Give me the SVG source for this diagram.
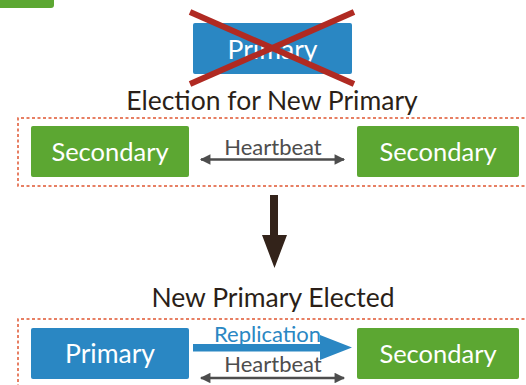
<svg xmlns="http://www.w3.org/2000/svg" width="526" height="385" viewBox="0 0 526 385">
<defs>
<style>
.t{font-family:Lato,"Open Sans","Liberation Sans",sans-serif}
.box-t{fill:#fff;font-size:25.5px;text-anchor:middle}
.pr-t{fill:#fff;font-size:26.5px;text-anchor:middle}
.title{fill:#2b1f18;font-size:26.5px;text-anchor:middle}
.hb{fill:#4d4d4d;font-size:22px;text-anchor:middle}
.green{fill:#5ca732}
.blue{fill:#2a87c3}
.dash{fill:none;stroke:#e05530;stroke-width:1.5;stroke-dasharray:3 2.5}
.hbl{stroke:#4d4d4d;stroke-width:2.5;fill:none}
</style>
<marker id="ah" viewBox="0 0 10 10" refX="9" refY="5" markerWidth="5.5" markerHeight="4.2" orient="auto-start-reverse" markerUnits="strokeWidth">
<path d="M0,0 L10,5 L0,10 Z" fill="#4d4d4d"/>
</marker>
</defs>
<rect width="526" height="385" fill="#fff"/>

<g id="top-fragment">
<path d="M0,0 H54 V5 Q54,8 51,8 H0 Z" class="green"/>
</g>

<g id="old-primary">
<rect x="193" y="23" width="159" height="51" rx="2" class="blue"/>
<text x="272.5" y="59" class="t pr-t">Primary</text>
<line x1="190" y1="12" x2="354" y2="84" stroke="#b02a22" stroke-width="6"/>
<line x1="354" y1="12" x2="190" y2="84" stroke="#b02a22" stroke-width="6"/>
</g>

<g id="title1">
<text x="272" y="110" class="t title">Election for New Primary</text>
</g>

<g id="group1">
<path d="M530,118 H18 V186 H530" class="dash"/>
</g>

<g id="sec1">
<rect x="31" y="126" width="158" height="51" rx="2" class="green"/>
<text x="110" y="161" class="t box-t">Secondary</text>
</g>

<g id="sec2">
<rect x="357" y="126" width="162" height="51" rx="2" class="green"/>
<text x="438" y="161" class="t box-t">Secondary</text>
</g>

<g id="down-arrow">
<path d="M270,195 H278 V235 H287 L274.5,268 L262,235 H270 Z" fill="#33231a"/>
</g>

<g id="title2">
<text x="273" y="307" class="t title">New Primary Elected</text>
</g>

<g id="group2">
<path d="M530,319 H18 V390" class="dash"/>
</g>

<g id="primary">
<rect x="31" y="328" width="158" height="51" rx="2" class="blue"/>
<text x="110" y="363" class="t pr-t">Primary</text>
</g>

<g id="sec3">
<rect x="357" y="328" width="162" height="51" rx="2" class="green"/>
<text x="438" y="363" class="t box-t">Secondary</text>
</g>

<g id="connectors">
<line x1="201" y1="159.5" x2="344" y2="159.5" class="hbl" marker-start="url(#ah)" marker-end="url(#ah)"/>
<text x="273" y="155" class="t hb">Heartbeat</text>
<path d="M193,344 H320 V335 L352,347.5 L320,360 V351.5 H193 Z" fill="#2a87c3"/>
<text x="267.5" y="342" class="t hb" style="fill:#2a87c3">Replication</text>
<line x1="201" y1="378" x2="344" y2="378" class="hbl" marker-start="url(#ah)" marker-end="url(#ah)"/>
<text x="273" y="372" class="t hb">Heartbeat</text>
</g>
</svg>
